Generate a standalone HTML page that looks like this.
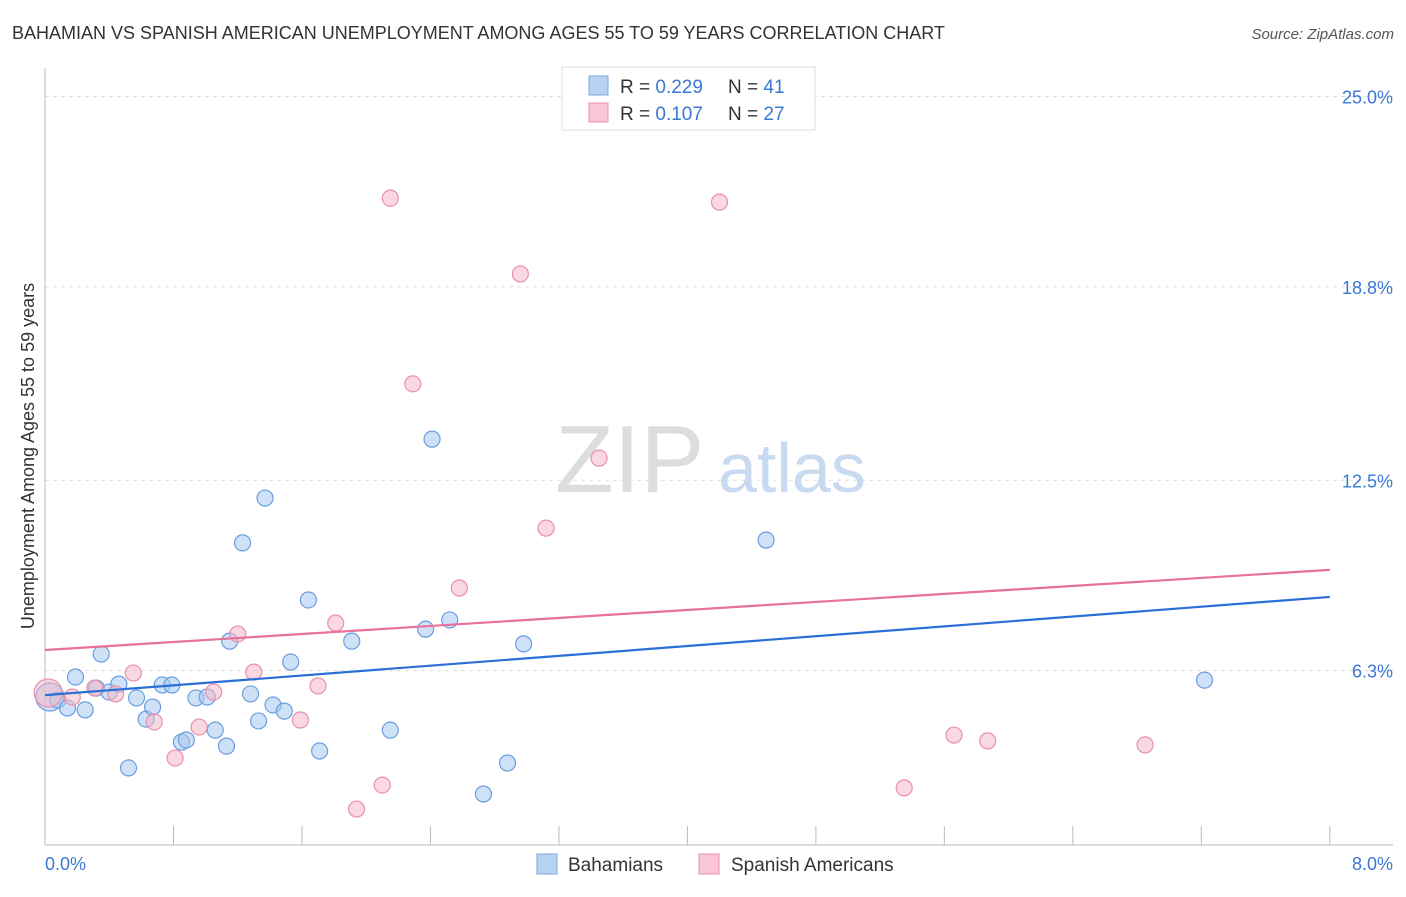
<!DOCTYPE html>
<html><head><meta charset="utf-8"><style>
body{margin:0;background:#fff;font-family:"Liberation Sans",sans-serif;}
svg text{font-family:"Liberation Sans",sans-serif;}
</style></head><body>
<svg width="1406" height="892" viewBox="0 0 1406 892">
<text x="12" y="39" font-size="18" fill="#333">BAHAMIAN VS SPANISH AMERICAN UNEMPLOYMENT AMONG AGES 55 TO 59 YEARS CORRELATION CHART</text>
<text x="1394" y="39" font-size="15" fill="#555" font-style="italic" text-anchor="end">Source: ZipAtlas.com</text>
<g id="grid"></g>
<g id="axes"></g>
<text x="555" y="492" font-size="96" fill="#ddd" font-family="Liberation Serif">ZIP</text>
<text x="718" y="492" font-size="70" fill="#c8daf0">atlas</text>
<g id="marks"></g>
<text transform="translate(34,456) rotate(-90)" font-size="18" fill="#333" text-anchor="middle">Unemployment Among Ages 55 to 59 years</text>
<text x="45" y="870" font-size="18" fill="#3a78d4">0.0%</text>
<text x="1393" y="870" font-size="18" fill="#3a78d4" text-anchor="end">8.0%</text>
<g>
<rect x="562" y="67" width="253" height="63" fill="#fff" stroke="#ddd"/>
<rect x="589" y="76" width="19" height="19" fill="#b8d2f4" stroke="#7aa8e0"/>
<rect x="589" y="103" width="19" height="19" fill="#f8c6d4" stroke="#e890aa"/>
<text x="620" y="93" font-size="19" fill="#333">R = <tspan fill="#3a78d4">0.229</tspan><tspan x="728">N = </tspan><tspan fill="#3a78d4">41</tspan></text>
<text x="620" y="120" font-size="19" fill="#333">R = <tspan fill="#3a78d4">0.107</tspan><tspan x="728">N = </tspan><tspan fill="#3a78d4">27</tspan></text>
</g>
<g>
<rect x="537" y="854" width="20" height="20" fill="#b8d2f4" stroke="#7aa8e0"/>
<text x="568" y="871" font-size="19" fill="#333">Bahamians</text>
<rect x="699" y="854" width="20" height="20" fill="#f8c6d4" stroke="#e890aa"/>
<text x="731" y="871" font-size="19" fill="#333">Spanish Americans</text>
</g>
</svg>
<script>
const yTicks=[25.0,18.8,12.5,6.3];
const yTickLabels=["25.0%","18.8%","12.5%","6.3%"];
const blueX=[0.03,0.08,0.14,0.19,0.25,0.32,0.35,0.40,0.46,0.52,0.57,0.63,0.67,0.73,0.79,0.85,0.88,0.94,1.01,1.06,1.13,1.15,1.23,1.28,1.33,1.37,1.42,1.49,1.53,1.64,1.71,1.91,2.15,2.37,2.41,2.52,2.73,2.88,2.98,4.49,7.22];
const blueY=[5.44,5.34,5.08,6.09,5.02,5.73,6.84,5.60,5.86,3.13,5.41,4.72,5.11,5.83,5.83,3.97,4.04,5.41,5.44,4.36,3.84,7.26,10.46,5.54,4.66,11.92,5.18,4.98,6.58,8.60,3.68,7.26,4.36,7.65,13.84,7.95,2.28,3.29,7.17,10.55,5.99];
const pinkX=[0.02,0.17,0.31,0.44,0.55,0.68,0.81,0.96,1.05,1.20,1.30,1.59,1.70,1.81,1.94,2.10,2.15,2.29,2.58,2.96,3.12,3.45,4.20,5.35,5.66,5.87,6.85];
const pinkY=[5.57,5.44,5.73,5.54,6.22,4.63,3.45,4.46,5.60,7.49,6.25,4.69,5.80,7.85,1.79,2.57,21.69,15.64,8.99,19.22,10.94,13.22,21.56,2.48,4.20,4.01,3.88];
const blueTrend=[5.50,8.70];
const pinkTrend=[6.97,9.58];
const NS="http://www.w3.org/2000/svg";
const xS=v=>45+v*160.6, yS=v=>864-v*30.7;
function mk(t,a,p){const e=document.createElementNS(NS,t);for(const k in a)e.setAttribute(k,a[k]);p.appendChild(e);return e;}
const grid=document.getElementById('grid'),axes=document.getElementById('axes'),marks=document.getElementById('marks');
yTicks.forEach((t,i)=>{
 const l=mk('line',{x1:45,x2:1393,y1:yS(t),y2:yS(t),stroke:'#ddd','stroke-dasharray':'4,4'},grid);
 
 
 const tx=mk('text',{x:1393,y:yS(t)+7,'font-size':18,fill:'#3a78d4','text-anchor':'end'},grid);
 tx.textContent=yTickLabels[i];
 
 
});
mk('line',{x1:45,x2:45,y1:68,y2:845,stroke:'#bbb'},axes);
mk('line',{x1:45,x2:1393,y1:845,y2:845,stroke:'#bbb'},axes);
for(let i=0;i<=10;i++){const x=xS(i*0.8);const t=mk('line',{x1:x,x2:x,y1:826,y2:845,stroke:'#bbb'},axes);
 
 }
function pts(X,Y,fill,stroke,name){X.forEach((x,i)=>{
 const c=mk('circle',{cx:xS(x),cy:yS(Y[i]),r:i===0?14:8,fill:fill,'fill-opacity':0.55,stroke:stroke,'stroke-width':1.2},marks);
 
 });}
pts(blueX,blueY,'#a8c8f0','#6a9ee0','bahamian-point');
pts(pinkX,pinkY,'#f5b8c8','#e890aa','spanish-american-point');
const bl=mk('line',{x1:xS(0),x2:xS(8),y1:yS(blueTrend[0]),y2:yS(blueTrend[1]),stroke:'#2a6fd6','stroke-width':2.2},marks);


const pl=mk('line',{x1:xS(0),x2:xS(8),y1:yS(pinkTrend[0]),y2:yS(pinkTrend[1]),stroke:'#e8709a','stroke-width':2.2},marks);


</script>
</body></html>
